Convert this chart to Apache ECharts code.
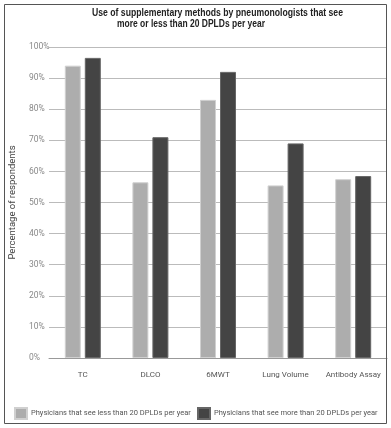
<!DOCTYPE html>
<html><head><meta charset="utf-8">
<script src="https://cdn.jsdelivr.net/npm/echarts@6/dist/echarts.min.js"></script>
<style>html,body{margin:0;padding:0;background:#fff}#c{width:391px;height:428px}</style>
</head><body><div id="c"></div>
<script>
var categories = ['TC', 'DLCO', '6MWT', 'Lung Volume', 'Antibody Assay'];
var lessThan20 = [94, 56.5, 83, 55.5, 57.5];
var moreThan20 = [96.5, 71, 92, 69, 58.5];
var seriesNames = ['Physicians that see less than 20 DPLDs per year', 'Physicians that see more than 20 DPLDs per year'];
var titleLines = ['Use of supplementary methods by pneumonologists that see', 'more or less than 20 DPLDs per year'];
var yAxisName = 'Percentage of respondents';

var F = 'Roboto, "Liberation Sans", sans-serif';
var ctx = document.createElement('canvas').getContext('2d');
function fitScale(text, font, target) { ctx.font = font; return target / ctx.measureText(text).width; }
var TF = 'bold 11px "Liberation Sans", Arial, sans-serif';
var legendText = {fontFamily: F, fontSize: 7.5, color: '#555', padding: [0, 0, 0, -1]};

var chart = echarts.init(document.getElementById('c'), null, {renderer: 'canvas'});
chart.setOption({
  backgroundColor: '#fff',
  animation: false,
  graphic: [
    {type: 'rect', shape: {x: 4.5, y: 4.5, width: 382, height: 419}, style: {fill: 'none', stroke: '#555', lineWidth: 1}, silent: true, z: 100},
    {type: 'text', x: 92, y: 7, scaleX: fitScale(titleLines[0], TF, 251), style: {text: titleLines[0], font: TF, fill: '#222'}},
    {type: 'text', x: 117, y: 18, scaleX: fitScale(titleLines[1], TF, 148), style: {text: titleLines[1], font: TF, fill: '#222'}}
  ],
  legend: [
    {left: 14, top: 407, padding: 0, itemWidth: 12, itemHeight: 11, icon: 'rect', textStyle: legendText, data: [seriesNames[0]]},
    {left: 197, top: 407, padding: 0, itemWidth: 12, itemHeight: 11, icon: 'rect', textStyle: legendText, data: [seriesNames[1]]}
  ],
  grid: {left: 47, right: 4, top: 47, bottom: 70, containLabel: false},
  xAxis: {
    type: 'category', data: categories,
    axisLine: {lineStyle: {color: '#999', width: 1}},
    axisTick: {show: false},
    axisLabel: {interval: 0, fontFamily: F, fontSize: 8, color: '#555', margin: 13}
  },
  yAxis: {
    type: 'value', min: 0, max: 100, interval: 10,
    name: yAxisName, nameLocation: 'middle', nameGap: 31,
    nameTextStyle: {fontFamily: F, fontSize: 9.5, color: '#444'},
    axisLine: {show: false}, axisTick: {show: false},
    axisLabel: {formatter: '{value}%', fontFamily: F, fontSize: 8.5, color: '#888', align: 'left', margin: 20},
    splitLine: {lineStyle: {color: '#bbb', width: 1}}
  },
  series: [
    {name: seriesNames[0], type: 'bar', data: lessThan20, barWidth: 16, barGap: '25%',
     itemStyle: {color: '#adadad', borderColor: '#d0d0d0', borderWidth: 1}},
    {name: seriesNames[1], type: 'bar', data: moreThan20, barWidth: 16, barGap: '25%',
     itemStyle: {color: '#444444', borderColor: '#666', borderWidth: 1}}
  ]
});
</script></body></html>
